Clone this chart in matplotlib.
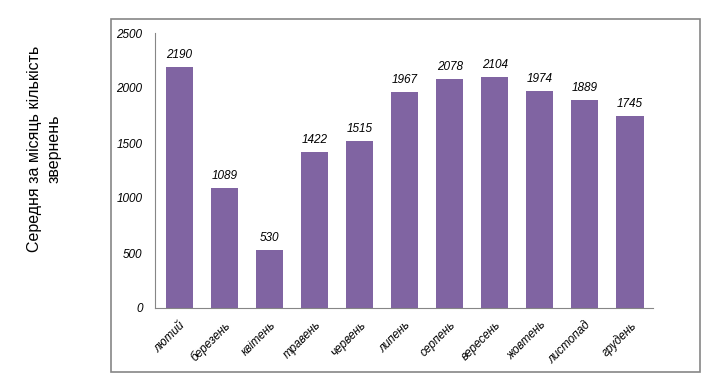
import matplotlib.pyplot as plt
from matplotlib.patches import Rectangle

months = ["лютий", "березень", "квітень", "травень", "червень", "липень",
          "серпень", "вересень", "жовтень", "листопад", "грудень"]
values = [2190, 1089, 530, 1422, 1515, 1967, 2078, 2104, 1974, 1889, 1745]
y_ticks = [0, 500, 1000, 1500, 2000, 2500]

plt.rcParams['font.family'] = ['Liberation Sans', 'DejaVu Sans']

fig = plt.figure(figsize=(7.08, 3.87), dpi=100)
W, H = 708, 387

# outer chart frame
fig.patches.append(Rectangle((111 / W, 1 - 372 / H), (700 - 111) / W, (372 - 19) / H,
                             transform=fig.transFigure, fill=False,
                             edgecolor='#868686', linewidth=1.2))

ax = fig.add_axes([155 / W, 1 - 308 / H, (653 - 155) / W, (308 - 33) / H])
x = range(len(months))
bars = ax.bar(x, values, width=0.6, color='#8064A2')

for xi, v in zip(x, values):
    ax.text(xi, v + 55, str(v), ha='center', va='bottom', fontsize=8.5,
            style='italic')

ax.set_xlim(-0.54, 10.51)
ax.set_ylim(0, 2500)
ax.set_yticks(y_ticks)
ax.set_yticklabels([str(t) for t in y_ticks], fontsize=8.5, style='italic')
ax.set_xticks(list(x))
ax.set_xticklabels(months, rotation=45, ha='right', rotation_mode='anchor',
                   fontsize=8.5, style='italic')
ax.tick_params(length=0, pad=9)
ax.tick_params(axis='x', pad=8)

for s in ['top', 'right']:
    ax.spines[s].set_visible(False)
for s in ['left', 'bottom']:
    ax.spines[s].set_color('#868686')

fig.text(44 / W, 1 - 149 / H, "Середня за місяць кількість\nзвернень",
         rotation=90, ha='center', va='center', fontsize=11.5, linespacing=1.35)

fig.savefig('out.png', dpi=100)
